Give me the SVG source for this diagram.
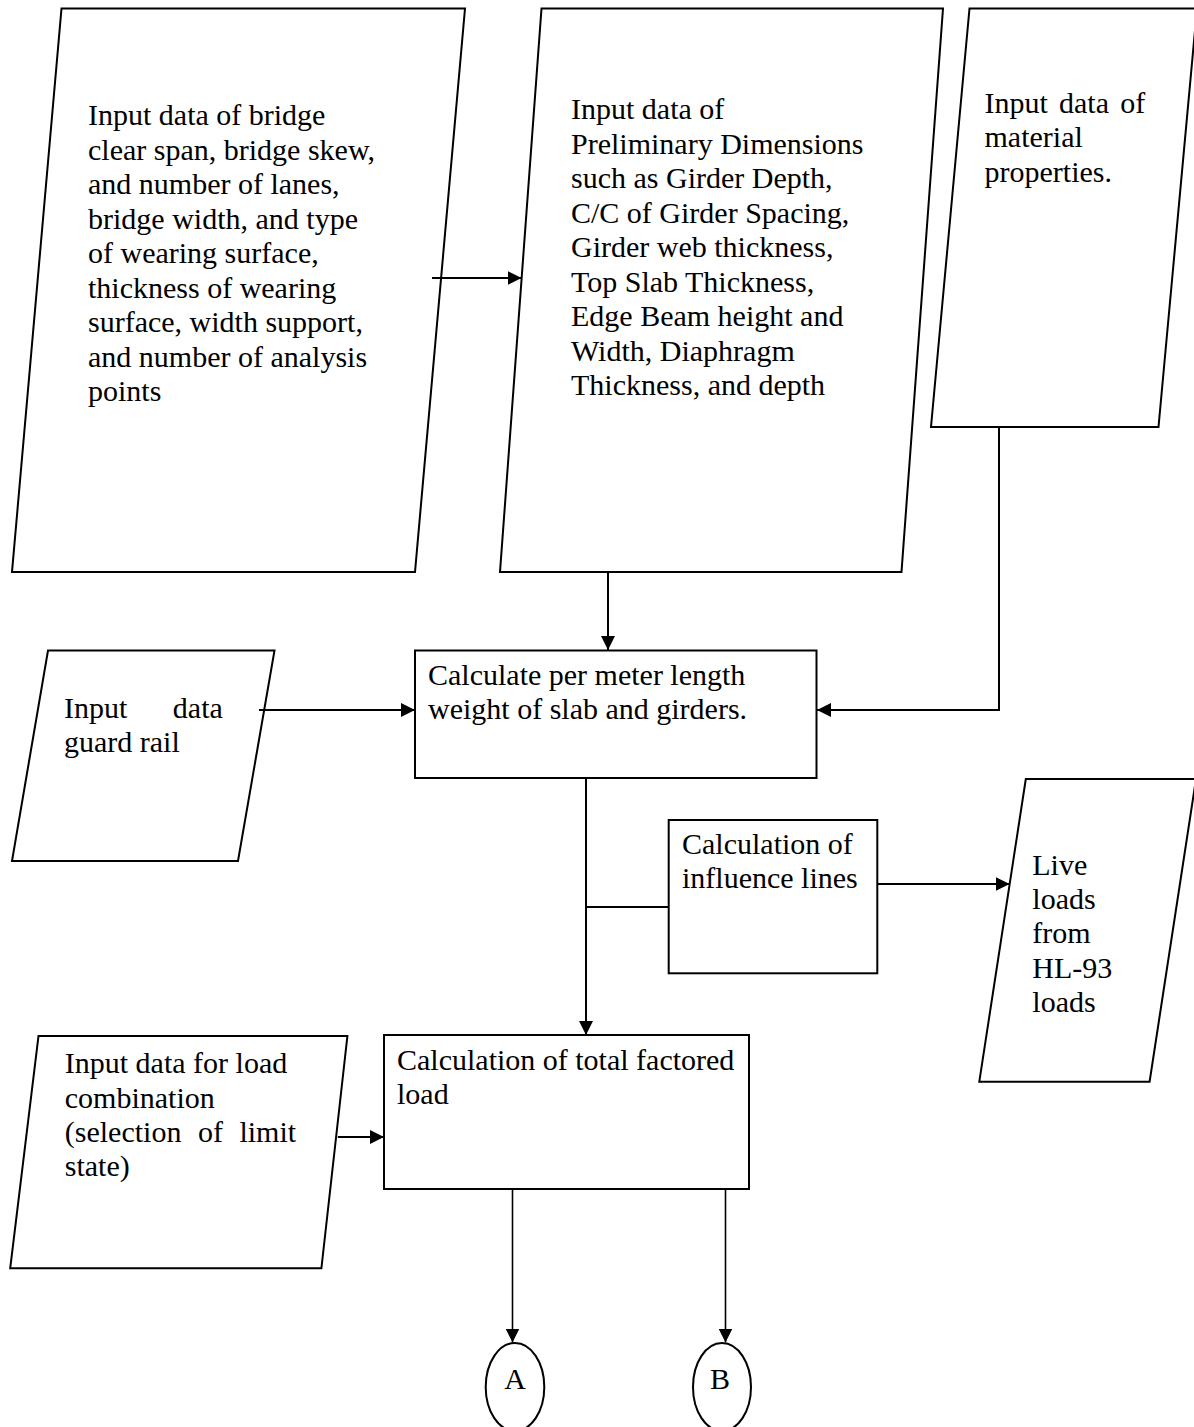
<svg xmlns="http://www.w3.org/2000/svg" width="1194" height="1427" viewBox="0 0 1194 1427">
  <defs>
    <marker id="arrow" markerUnits="userSpaceOnUse" markerWidth="14" markerHeight="14" refX="14" refY="7" orient="auto">
      <path d="M0,0 L14,7 L0,14 z" fill="#000"/>
    </marker>
    <style>
      .shape { fill: #fff; stroke: #000; stroke-width: 2; }
      .conn { fill: none; stroke: #000; stroke-width: 2; }
      .thin { stroke-width: 1.6; }
      text { font-family: "Liberation Serif", "Times New Roman", serif; font-size: 30px; fill: #000; }
    </style>
  </defs>
  <rect width="1194" height="1427" fill="#fff"/>

  <!-- input: bridge geometry -->
  <g id="in-bridge">
    <polygon class="shape" points="61.5,8.5 465,8.5 415,572 12,572"/>
    <text x="88" y="125">Input data of bridge</text>
    <text x="88" y="159.5">clear span, bridge skew,</text>
    <text x="88" y="194">and number of lanes,</text>
    <text x="88" y="228.5">bridge width, and type</text>
    <text x="88" y="263">of wearing surface,</text>
    <text x="88" y="297.5">thickness of wearing</text>
    <text x="88" y="332">surface, width support,</text>
    <text x="88" y="366.5">and number of analysis</text>
    <text x="88" y="401">points</text>
  </g>

  <!-- input: preliminary dimensions -->
  <g id="in-dimensions">
    <polygon class="shape" points="541.5,8.5 943,8.5 901.5,572 500,572"/>
    <text x="571" y="119">Input data of</text>
    <text x="571" y="153.5">Preliminary Dimensions</text>
    <text x="571" y="188">such as Girder Depth,</text>
    <text x="571" y="222.5">C/C of Girder Spacing,</text>
    <text x="571" y="257">Girder web thickness,</text>
    <text x="571" y="291.5">Top Slab Thickness,</text>
    <text x="571" y="326">Edge Beam height and</text>
    <text x="571" y="360.5">Width, Diaphragm</text>
    <text x="571" y="395">Thickness, and depth</text>
  </g>

  <!-- input: material properties -->
  <g id="in-material">
    <polygon class="shape" points="969.5,8.5 1197,8.5 1158.5,427 931,427"/>
    <text x="984.5" y="112.5" word-spacing="3.7">Input data of</text>
    <text x="984.5" y="147">material</text>
    <text x="984.5" y="181.5">properties.</text>
  </g>

  <!-- input: guard rail -->
  <g id="in-guardrail">
    <polygon class="shape" points="48,650.5 274.5,650.5 238,861 12,861"/>
    <text x="64" y="718" word-spacing="38">Input data</text>
    <text x="64" y="752">guard rail</text>
  </g>

  <!-- process: self weight -->
  <g id="calc-weight">
    <rect class="shape" x="415" y="650.5" width="401.5" height="127.5"/>
    <text x="428" y="685">Calculate per meter length</text>
    <text x="428" y="719.3">weight of slab and girders.</text>
  </g>

  <!-- process: influence lines -->
  <g id="calc-influence">
    <rect class="shape" x="668.7" y="820" width="208.6" height="153.3"/>
    <text x="682" y="854">Calculation of</text>
    <text x="682" y="888.3">influence lines</text>
  </g>

  <!-- input: live loads -->
  <g id="in-liveload">
    <polygon class="shape" points="1025.8,779 1196,779 1149.6,1081.7 979.3,1081.7"/>
    <text x="1032.3" y="875">Live</text>
    <text x="1032.3" y="909.2">loads</text>
    <text x="1032.3" y="943.4">from</text>
    <text x="1032.3" y="977.6">HL-93</text>
    <text x="1032.3" y="1011.8">loads</text>
  </g>

  <!-- input: load combination -->
  <g id="in-loadcombo">
    <polygon class="shape" points="38.5,1036 347.4,1036 321.4,1268.3 10.2,1268.3"/>
    <text x="64.8" y="1073.3">Input data for load</text>
    <text x="64.8" y="1107.6">combination</text>
    <text x="64.8" y="1141.9" word-spacing="9">(selection of limit</text>
    <text x="64.8" y="1176.2">state)</text>
  </g>

  <!-- process: factored load -->
  <g id="calc-factored">
    <rect class="shape" x="384" y="1035" width="365" height="154"/>
    <text x="397" y="1070">Calculation of total factored</text>
    <text x="397" y="1104.3">load</text>
  </g>

  <!-- off-page connectors -->
  <g id="conn-a">
    <ellipse class="shape" cx="515" cy="1387" rx="29.3" ry="44"/>
    <text x="515" y="1389.3" text-anchor="middle">A</text>
  </g>
  <g id="conn-b">
    <ellipse class="shape" cx="722" cy="1387" rx="29" ry="44"/>
    <text x="720" y="1389.3" text-anchor="middle">B</text>
  </g>

  <!-- flow lines -->
  <g id="connectors">
    <path class="conn" d="M432,278 H521.6" marker-end="url(#arrow)"/>
    <path class="conn" d="M608,572 V650" marker-end="url(#arrow)"/>
    <path class="conn" d="M999,427 V710 H817" marker-end="url(#arrow)"/>
    <path class="conn" d="M259,710 H415" marker-end="url(#arrow)"/>
    <path class="conn" d="M586,778 V1035" marker-end="url(#arrow)"/>
    <path class="conn" d="M586,907 H668.7"/>
    <path class="conn" d="M877.3,884 H1009.6" marker-end="url(#arrow)"/>
    <path class="conn" d="M337.8,1137 H384" marker-end="url(#arrow)"/>
    <path class="conn thin" d="M512.5,1189 V1342.5" marker-end="url(#arrow)"/>
    <path class="conn thin" d="M725.5,1189 V1342.5" marker-end="url(#arrow)"/>
  </g>
</svg>
